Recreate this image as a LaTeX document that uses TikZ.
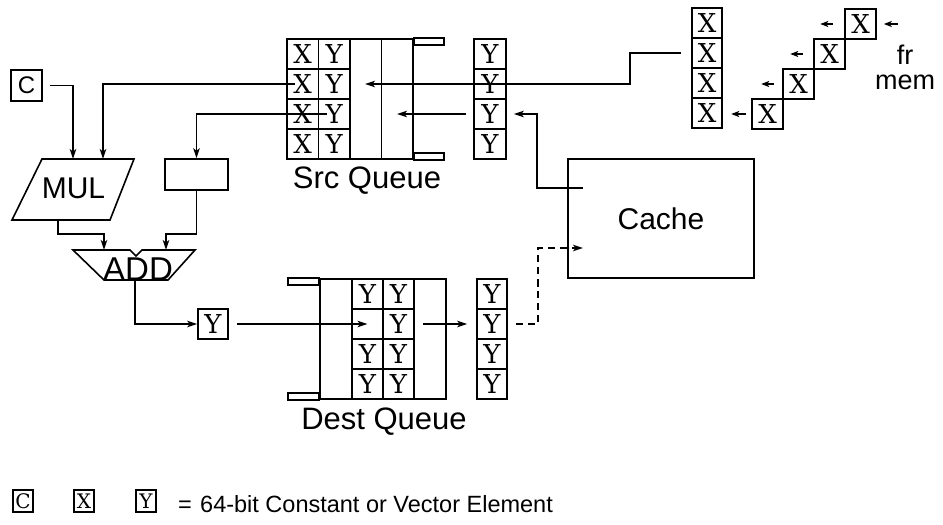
\documentclass[tikz,border=0pt]{standalone}
\usepackage{fontspec}
\setmainfont{Liberation Sans}
\newfontfamily\serifcell{DejaVu Serif}
\usetikzlibrary{arrows.meta}
\begin{document}
\begin{tikzpicture}[x=1pt,y=-1pt,
  conn/.style={line width=1.5pt,-{Stealth[length=10pt,width=6.5pt,inset=2.5pt]}},
  sconn/.style={line width=1.5pt,-{Stealth[length=8pt,width=6pt,inset=2pt]}},
  edge/.style={line width=1.6pt},
  frame/.style={draw,line width=1.6pt,inner sep=0pt},
  cell/.style={draw,line width=1.6pt,minimum width=31pt,minimum height=30pt,inner sep=0pt,
    font=\serifcell\fontsize{26}{26}\selectfont},
  lcell/.style={draw,line width=1.5pt,minimum width=20pt,minimum height=22pt,inner sep=0pt,
    font=\serifcell\fontsize{20}{20}\selectfont},
  lbl/.style={inner sep=0pt,anchor=base,font=\fontsize{31}{31}\selectfont}]
\useasboundingbox (0,0) rectangle (943,525);
\fill[white] (0,0) rectangle (943,525);

% constant box
\node[frame,minimum width=31pt,minimum height=31pt,font=\fontsize{24}{24}\selectfont] (cbox) at (26.5,85.5) {C};

% MUL
\coordinate (mulA) at (42,159);
\coordinate (mulB) at (134,159);
\coordinate (mulC) at (110,220);
\coordinate (mulD) at (12,220);
\draw[edge] (mulA) -- (mulB) -- (mulC) -- (mulD) -- cycle;
\node[lbl,font=\fontsize{30}{30}\selectfont] (mul) at (73.5,198) {MUL};
\coordinate (mulin1) at (73,159);
\coordinate (mulin2) at (103,159);
\coordinate (mulout) at (58,220);

% register box
\node[frame,minimum width=63pt,minimum height=31pt] (reg) at (196.5,174.5) {};

% ADD
\coordinate (addA) at (73,250);
\coordinate (addB) at (130,250);
\coordinate (addN) at (136,256);
\coordinate (addC) at (142,250);
\coordinate (addD) at (195,250);
\coordinate (addE) at (168,280);
\coordinate (addF) at (104,280);
\draw[edge] (addA) -- (addB) -- (addN) -- (addC) -- (addD) -- (addE) -- (addF) -- cycle;
\node[lbl,font=\fontsize{33}{33}\selectfont] (add) at (138,280) {ADD};
\coordinate (addin1) at (104,250);
\coordinate (addin2) at (166,250);
\coordinate (addout) at (135,280);

% result Y
\node[cell,minimum width=30pt] (ybox) at (213,324) {Y};

% Src queue
\node[frame,minimum width=126pt,minimum height=120pt] (srcq) at (350,99) {};
\draw[edge] ([xshift=31.5pt]srcq.north) -- ([xshift=31.5pt]srcq.south);
\foreach \i/\y in {1/54,2/84,3/114,4/144}{
  \node[cell,minimum width=31.5pt] (sx\i) at (302.75,\y) {X};
  \node[cell,minimum width=31.5pt] (sy\i) at (334.25,\y) {Y};
}
\draw[edge] (srcq.north east) rectangle ++(30,7);
\draw[edge] (srcq.south east) rectangle ++(30,-7);
\node[lbl] (srclbl) at (367,188) {Src Queue};

% Src Y column
\foreach \i/\y in {1/54,2/84,3/114,4/144}{
  \node[cell,minimum width=32pt] (qy\i) at (490,\y) {Y};
}

% memory X column
\foreach \i/\y in {1/23,2/53,3/83,4/113}{
  \node[cell,minimum width=30pt] (mx\i) at (707,\y) {X};
}

% staircase from memory
\node[cell] (st1) at (860.5,24) {X};
\node[cell] (st2) at (829.5,54) {X};
\node[cell] (st3) at (798.5,84) {X};
\node[cell] (st4) at (767.5,114) {X};
\draw[sconn] ([xshift=21pt]st1.east) -- ([xshift=7pt]st1.east);
\draw[sconn] ([xshift=-11pt]st1.west) -- ([xshift=-24pt]st1.west);
\draw[sconn] ([xshift=-10pt]st2.west) -- ([xshift=-23pt]st2.west);
\draw[sconn] ([xshift=-8pt]st3.west) -- ([xshift=-21pt]st3.west);
\draw[sconn] ([xshift=-5pt]st4.west) -- ([xshift=-20pt]st4.west);
\node[inner sep=0pt,align=center,font=\fontsize{27}{25}\selectfont] (frmem) at (905,67.5) {fr\\mem};

% Cache
\node[frame,minimum width=186pt,minimum height=119pt,font=\fontsize{30}{30}\selectfont] (cache) at (661,218.5) {Cache};
\coordinate (cacheout) at (583,188);
\coordinate (cachein) at (583,248);

% connectors into Src queue
\coordinate (srcin1) at (365,84);
\coordinate (srcin2) at (397,114);
\draw[conn] ([xshift=-10pt]mx2.west) -| (630,68) |- (srcin1);
\draw[conn] ([xshift=-7pt]qy3.west) -- (srcin2);
\draw[conn] (cacheout) -| (537,150) |- ([xshift=7pt]qy3.east);

% connectors out of Src queue
\draw[conn] ([xshift=-7.5pt]sx2.center) -| (mulin2);
\draw[conn] ([xshift=-7.5pt]sy3.center) -| (reg.north);
\draw[conn] ([xshift=7pt]cbox.east) -| (mulin1);
\draw[conn] (mulout) |- (81,234) -| (addin1);
\draw[conn] (reg.south) |- (180,234) -| (addin2);
\draw[conn] (addout) |- (ybox.west);

% Dest queue
\node[frame,minimum width=126pt,minimum height=120pt] (dstq) at (383,339) {};
\node[cell] (d11) at (367.5,294) {Y};
\node[cell] (d12) at (398.5,294) {Y};
\node[cell] (d21) at (367.5,324) {};
\node[cell] (d22) at (398.5,324) {Y};
\node[cell] (d31) at (367.5,354) {Y};
\node[cell] (d32) at (398.5,354) {Y};
\node[cell] (d41) at (367.5,384) {Y};
\node[cell] (d42) at (398.5,384) {Y};
\draw[edge] (dstq.north west) rectangle ++(-31,7);
\draw[edge] (dstq.south west) rectangle ++(-31,-7);
\node[lbl] (dstlbl) at (384,429) {Dest Queue};

% Dest Y column
\foreach \i/\y in {1/294,2/324,3/354,4/384}{
  \node[cell,minimum width=30pt] (dc\i) at (492,\y) {Y};
}

\draw[conn] ([xshift=8pt]ybox.east) -- (d21.center);
\draw[conn] ([xshift=8pt]d22.east) -- ([xshift=-9pt]dc2.west);
\draw[conn,dash pattern=on 7pt off 5pt] ([xshift=8pt]dc2.east) -| (538,286) |- (cachein);

% legend
\node[lcell] (lc) at (23,501) {C};
\node[lcell] (lx) at (84,501) {X};
\node[lcell] (ly) at (146,501) {Y};
\node[inner sep=0pt,anchor=base,font=\fontsize{23.5}{23.5}\selectfont] (eq) at (185,512) {=};
\node[inner sep=0pt,anchor=base west,font=\fontsize{23.5}{23.5}\selectfont] (legend) at (200,512) {64-bit Constant or Vector Element};
\end{tikzpicture}
\end{document}
